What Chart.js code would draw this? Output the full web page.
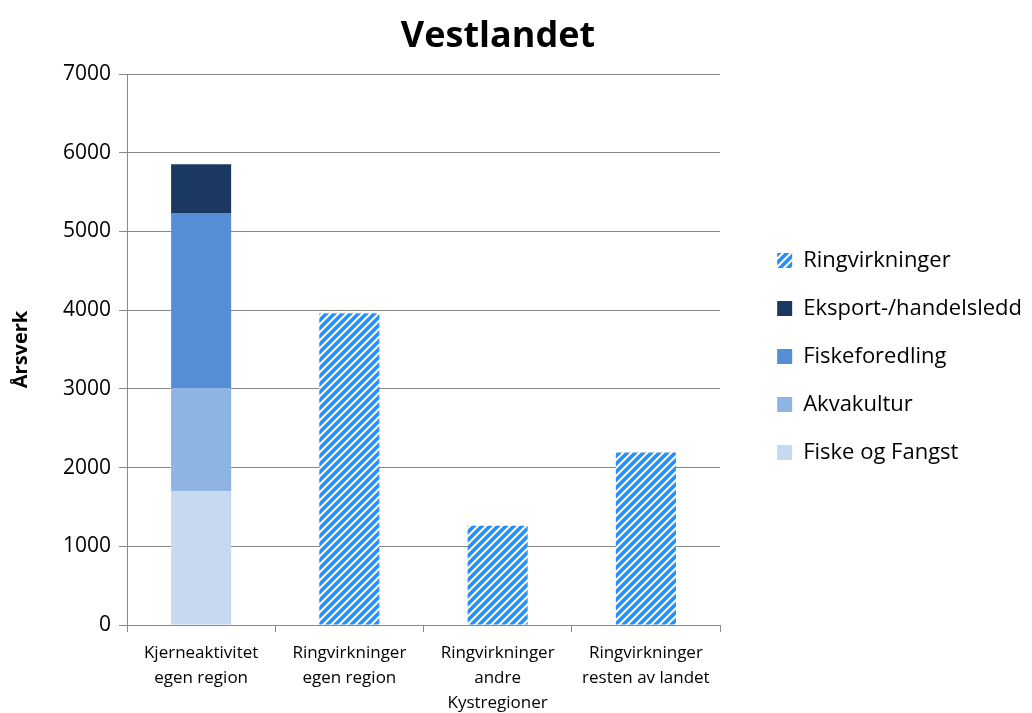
<!DOCTYPE html>
<html><head><meta charset="utf-8">
<script src="https://cdn.jsdelivr.net/npm/chart.js@4.4.0/dist/chart.umd.min.js"></script>
<style>html,body{margin:0;padding:0;background:#fff}</style>
</head><body>
<canvas id="c" width="1032" height="713"></canvas>
<script>
const chartTitle = "Vestlandet";
const yAxisTitle = "Årsverk";
const categories = [
  ["Kjerneaktivitet", "egen region"],
  ["Ringvirkninger", "egen region"],
  ["Ringvirkninger", "andre", "Kystregioner"],
  ["Ringvirkninger", "resten av landet"]
];
const seriesNames = ["Fiske og Fangst", "Akvakultur", "Fiskeforedling", "Eksport-/handelsledd", "Ringvirkninger"];
const fiskeOgFangst = [1700, null, null, null];
const akvakultur = [1310, null, null, null];
const fiskeforedling = [2225, null, null, null];
const eksport = [620, null, null, null];
const ringvirkninger = [null, 3960, 1260, 2190];
const yMin = 0, yMax = 7000, yStep = 1000;

const FONT = '"Open Sans", "Liberation Sans", sans-serif';
const GRID = '#888888';

const canvas = document.getElementById('c');
const ctx = canvas.getContext('2d');

function makeHatch() {
  const t = document.createElement('canvas');
  t.width = 8; t.height = 8;
  const g = t.getContext('2d');
  g.fillStyle = '#ffffff';
  g.fillRect(0, 0, 8, 8);
  g.strokeStyle = '#1E90FF';
  g.lineWidth = 3.6;
  g.beginPath();
  g.moveTo(-2, 10); g.lineTo(10, -2);
  g.moveTo(-2, 2); g.lineTo(2, -2);
  g.moveTo(6, 10); g.lineTo(10, 6);
  g.stroke();
  return ctx.createPattern(t, 'repeat');
}

const titlePlugin = {
  id: 'centerTitle',
  afterDraw(chart) {
    const c = chart.ctx;
    c.save();
    c.font = 'bold 36px ' + FONT;
    c.fillStyle = '#000';
    c.textAlign = 'center';
    c.textBaseline = 'middle';
    c.fillText(chartTitle, 498, 37);
    c.restore();
  }
};

const common = { stack: 's', barPercentage: 0.405, categoryPercentage: 1.0, borderWidth: 0 };

new Chart(ctx, {
  type: 'bar',
  data: {
    labels: categories,
    datasets: [
      Object.assign({ label: seriesNames[0], data: fiskeOgFangst, backgroundColor: '#C6D9F1' }, common),
      Object.assign({ label: seriesNames[1], data: akvakultur, backgroundColor: '#8EB4E3' }, common),
      Object.assign({ label: seriesNames[2], data: fiskeforedling, backgroundColor: '#558ED5' }, common),
      Object.assign({ label: seriesNames[3], data: eksport, backgroundColor: '#1A3860' }, common),
      Object.assign({ label: seriesNames[4], data: ringvirkninger, backgroundColor: makeHatch() }, common)
    ]
  },
  options: {
    responsive: false,
    animation: false,
    layout: { padding: 0 },
    plugins: {
      title: { display: false },
      tooltip: { enabled: false },
      legend: {
        position: 'right',
        reverse: true,
        maxWidth: 320,
        labels: {
          boxWidth: 15,
          boxHeight: 15,
          padding: 26,
          color: '#000',
          font: { family: FONT, size: 22 }
        }
      }
    },
    scales: {
      x: {
        stacked: true,
        ticks: { color: '#000', font: { family: FONT, size: 17, lineHeight: '25px' }, padding: 9, maxRotation: 0, autoSkip: false },
        grid: { display: true, drawOnChartArea: false, tickLength: 7, color: GRID },
        border: { color: GRID },
        afterFit: s => { s.height = 88; }
      },
      y: {
        stacked: true,
        min: yMin, max: yMax,
        ticks: { stepSize: yStep, padding: 8, color: '#000', font: { family: FONT, size: 21 }, callback: v => String(v) },
        grid: { color: GRID, tickLength: 8, lineWidth: 1 },
        border: { color: GRID },
        title: { display: true, text: yAxisTitle, color: '#000', font: { family: FONT, size: 20, weight: 'bold' }, padding: { top: 9, bottom: 0 } },
        afterFit: s => { s.width = 127; }
      },
      xTop: {
        type: 'linear', position: 'top', display: true,
        grid: { display: false }, ticks: { display: false }, border: { display: false },
        afterFit: s => { s.height = 74; }
      },
      yRight: {
        type: 'linear', position: 'right', display: true,
        grid: { display: false }, ticks: { display: false }, border: { display: false },
        afterFit: s => {
          const lw = s.chart.legend ? s.chart.legend.width : 0;
          s.width = Math.max(0, s.chart.width - lw - 720);
        }
      }
    }
  },
  plugins: [titlePlugin]
});
</script>
</body></html>
